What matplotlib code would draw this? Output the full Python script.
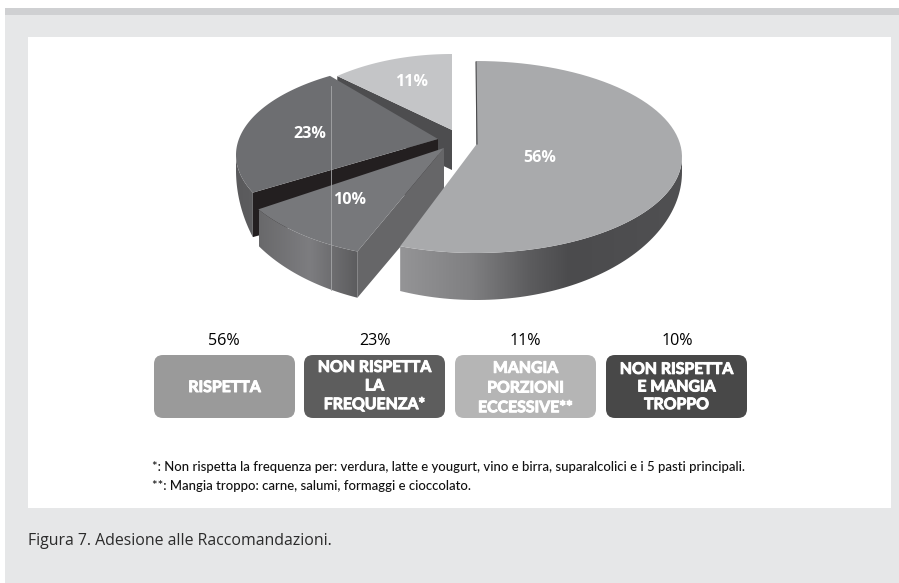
import numpy as np
import matplotlib
matplotlib.use("Agg")
import matplotlib.pyplot as plt
import matplotlib.patheffects as pe
from matplotlib.colors import LinearSegmentedColormap
from matplotlib.patches import FancyBboxPatch, Polygon, Rectangle

plt.rcParams['font.family'] = ['Lato', 'DejaVu Sans']

# Dati
slice_names = ["RISPETTA", "NON RISPETTA E MANGIA TROPPO", "NON RISPETTA LA FREQUENZA*", "MANGIA PORZIONI ECCESSIVE**"]
slice_values = [56, 10, 23, 11]
legend_values = [56, 23, 11, 10]
legend_labels = ["RISPETTA", "NON RISPETTA\nLA\nFREQUENZA*", "MANGIA\nPORZIONI\nECCESSIVE**", "NON RISPETTA\nE MANGIA\nTROPPO"]
footnotes = ["*: Non rispetta la frequenza per: verdura, latte e yougurt, vino e birra, suparalcolici e i 5 pasti principali.",
             "**: Mangia troppo: carne, salumi, formaggi e cioccolato."]
caption = "Figura 7. Adesione alle Raccomandazioni."

# Geometria prospettica di ogni fetta (pixel)
geom = [
    dict(c=(476, 157), r=(206, 96), apex=(476, 145), c2=(476, 172), r2=(206, 128), rot=0, label=(540, 158)),
    dict(c=(434, 152), r=(208, 107), apex=(444, 148), c2=(434, 175), r2=(208, 132), rot=0, label=(350, 200)),
    dict(c=(431, 155), r=(195, 92.5), apex=(438, 139), c2=(431, 170), r2=(195, 165), rot=-8.4, label=(310, 134)),
    dict(c=(452, 150), r=(180, 96), apex=(452, 130), c2=(452, 190), r2=(180, 96), rot=0, label=(412, 82)),
]
top_colors = ["#a9aaac", "#77787b", "#6d6e71", "#c4c5c7"]
side_stops = [
    [(397, "#959597"), (470, "#808082"), (530, "#5c5c5e"), (570, "#4b4b4d"), (682, "#505052")],
    [(259, "#69696b"), (310, "#7d7d80"), (358, "#5c5c5e")],
    [(236, "#5a5a5c"), (262, "#5e5e60")],
    None,
]
face_colors = [None, "#666668", "#231f20", "#4d4d4f"]

fig = plt.figure(figsize=(8.99, 5.83), dpi=100)
ax = fig.add_axes([0, 0, 1, 1])
ax.axis("off")

# Sfondo
ax.add_patch(Rectangle((5, 8), 894, 575, color="#e6e7e8", lw=0, zorder=0))
ax.add_patch(Rectangle((5, 8), 894, 7, color="#cfd0d2", lw=0, zorder=0))
ax.add_patch(Rectangle((28, 37), 863, 471, color="white", lw=0, zorder=0))


def arc(c, r, t0, t1):
    t = np.radians(np.linspace(t0, t1, 80))
    return np.column_stack([c[0] + r[0] * np.cos(t), c[1] - r[1] * np.sin(t)])


# angoli dai valori, in senso orario da 90
ends = 90 - np.cumsum(slice_values) * 3.6
starts = np.r_[90, ends[:-1]]

# ordine di disegno: da dietro verso davanti
z = 2
for i in [3, 2, 1, 0]:
    g = geom[i]
    t0, t1 = starts[i] + g["rot"], ends[i] + g["rot"]
    top = arc(g["c"], g["r"], t0, t1)

    # faccia del taglio
    if face_colors[i] is not None:
        p = top[0]
        q = arc(g["c2"], g["r2"], t0, t0)[0]
        drop = 40 if i == 3 else 47
        face = [g["apex"], p, q, (g["apex"][0], g["apex"][1] + drop)]
        ax.add_patch(Polygon(face, color=face_colors[i], lw=0, zorder=z))
        z += 1

    # bordo esterno con sfumatura
    if side_stops[i] is not None:
        if i == 0:
            hi, lo = t1, 0
        elif i == 2:
            hi, lo = t0, -180
        else:
            hi, lo = t0, t1
        a = arc(g["c"], g["r"], hi, lo)
        b = arc(g["c2"], g["r2"], hi, lo)
        side = Polygon(np.vstack([a, b[::-1]]), transform=ax.transData, lw=0)
        xs = [s[0] for s in side_stops[i]]
        xnorm = [(x - xs[0]) / (xs[-1] - xs[0]) for x in xs]
        cmap = LinearSegmentedColormap.from_list("s", list(zip(xnorm, [s[1] for s in side_stops[i]])))
        im = ax.imshow(np.linspace(0, 1, 256)[None, :], cmap=cmap, aspect="auto",
                       extent=(xs[0], xs[-1], 310, 100), zorder=z)
        ax.add_patch(side)
        side.set_visible(False)
        im.set_clip_path(side)
        z += 1

    # superficie superiore
    ax.add_patch(Polygon(np.vstack([[g["apex"]], top]), color=top_colors[i], lw=0, zorder=z))
    z += 1

ax.set_xlim(0, 899)
ax.set_ylim(583, 0)

# linea scura sul taglio della fetta grande e filetto chiaro verticale
ax.plot([476, 477], [62, 144], color="#4a4a4c", lw=0.8, zorder=z)
ax.plot([331, 331], [86, 290], color="#a6a7a9", lw=0.6, zorder=z)
z += 1

for i, g in enumerate(geom):
    ax.text(g["label"][0], g["label"][1], "%d%%" % slice_values[i], color="white", fontsize=11.6,
            family="Open Sans", fontweight="bold", ha="center", va="center", zorder=z)

# Riquadri della legenda
box_x = [154, 304, 455, 606]
box_w = 141
box_colors = ["#9a9a9a", "#5d5d5d", "#b5b5b5", "#484848"]
label_y = [388, 386.5, 388.5, 387.5]
pct_x = [224, 375, 525, 677]
line_gap = [1.2, 1.42, 1.52, 1.33]
for k in range(4):
    x = box_x[k]
    ax.add_patch(FancyBboxPatch((x, 355), box_w, 63, boxstyle="round,pad=0,rounding_size=9",
                                fc=box_colors[k], ec="none", zorder=z))
    ax.text(pct_x[k], 341, "%d%%" % legend_values[k], fontsize=11.6, ha="center", va="center",
            family="Open Sans", fontweight="medium", color="#000000", zorder=z)
    t = ax.text(x + box_w / 2, label_y[k], legend_labels[k], fontsize=11.4, fontweight="bold", ha="center",
                va="center", color="white", linespacing=line_gap[k], zorder=z + 1)
    t.set_path_effects([pe.withStroke(linewidth=0.7, foreground="white")])

# Note e didascalia
ax.text(152, 467, footnotes[0], fontsize=9.42, va="center", color="#111111", fontweight="medium")
ax.text(152, 486, footnotes[1], fontsize=9.42, va="center", color="#111111", fontweight="medium")
ax.text(28, 541, caption, fontsize=11.4, va="center", color="#2b2b2b", family="Open Sans")

fig.savefig("out.png", dpi=100)
